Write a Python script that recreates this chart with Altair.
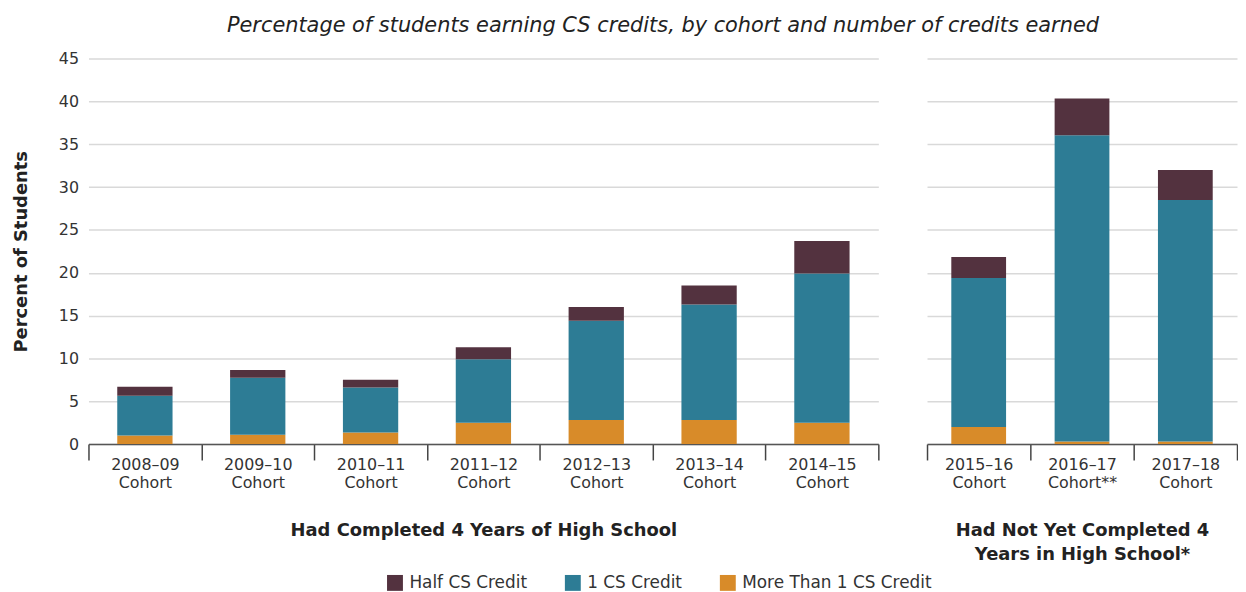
import altair as alt
import pandas as pd

cohorts_done = ["2008–09|Cohort", "2009–10|Cohort", "2010–11|Cohort", "2011–12|Cohort",
                "2012–13|Cohort", "2013–14|Cohort", "2014–15|Cohort"]
cohorts_not = ["2015–16|Cohort", "2016–17|Cohort**", "2017–18|Cohort"]
more_than_one = [1.0, 1.1, 1.35, 2.5, 2.8, 2.8, 2.5, 2.0, 0.3, 0.3]
one_credit = [4.65, 6.65, 5.25, 7.4, 11.6, 13.5, 17.4, 17.4, 35.75, 28.2]
half_credit = [1.05, 0.9, 0.9, 1.4, 1.6, 2.2, 3.8, 2.45, 4.3, 3.5]
series = ["Half CS Credit", "1 CS Credit", "More Than 1 CS Credit"]
colors = ["#53323F", "#2D7C95", "#D88B29"]

FONT = "DejaVu Sans"

rows = []
all_cohorts = cohorts_done + cohorts_not
for i, c in enumerate(all_cohorts):
    grp = "done" if i < len(cohorts_done) else "not"
    for s, vals, o in [(series[2], more_than_one, 0), (series[1], one_credit, 1), (series[0], half_credit, 2)]:
        rows.append({"cohort": c, "group": grp, "series": s, "value": vals[i], "order": o})
df = pd.DataFrame(rows)

color = alt.Color("series:N", scale=alt.Scale(domain=series, range=colors),
                  legend=alt.Legend(title=None, orient="none", direction="horizontal",
                                    legendX=300, legendY=519, symbolType="square",
                                    symbolSize=256, symbolStrokeWidth=0, symbolOpacity=1,
                                    labelFontSize=17, labelColor="#333333", labelFont=FONT,
                                    labelLimit=0, columnPadding=37, labelOffset=6))

def xaxis(title):
    return alt.Axis(title=title, labelExpr="split(datum.label, '|')", tickBand="extent",
                    labelAngle=0, tickSize=16, tickColor="#444444", tickWidth=1.5,
                    domainColor="#555555", domainWidth=1.5, labelFontSize=16,
                    labelColor="#333333", labelPadding=-3, labelLineHeight=18,
                    titleFontSize=18, titleFontWeight="bold", titleColor="#222222",
                    titlePadding=31, titleLineHeight=24, labelFont=FONT, titleFont=FONT)

yscale = alt.Scale(domain=[0, 45], nice=False)

left = alt.Chart(df).transform_filter(alt.datum.group == "done").mark_bar(
    width=alt.RelativeBandSize(0.49)).encode(
    x=alt.X("cohort:N", sort=cohorts_done, scale=alt.Scale(paddingInner=0, paddingOuter=0),
            axis=xaxis("Had Completed 4 Years of High School")),
    y=alt.Y("value:Q", stack="zero", scale=yscale,
            axis=alt.Axis(title="Percent of Students", values=list(range(0, 50, 5)),
                          grid=True, ticks=False, domain=False, labelFontSize=16,
                          labelColor="#333333", labelPadding=10, titleFontSize=18,
                          titleFontWeight="bold", titleColor="#222222", titlePadding=28,
                          gridColor="#D9D9D9", gridWidth=1.5, labelFont=FONT, titleFont=FONT)),
    color=color,
    order=alt.Order("order:Q"),
).properties(width=795, height=388)

right = alt.Chart(df).transform_filter(alt.datum.group == "not").mark_bar(
    width=alt.RelativeBandSize(0.53)).encode(
    x=alt.X("cohort:N", sort=cohorts_not, scale=alt.Scale(paddingInner=0, paddingOuter=0),
            axis=xaxis(["Had Not Yet Completed 4", "Years in High School*"])),
    y=alt.Y("value:Q", stack="zero", scale=yscale,
            axis=alt.Axis(title=None, values=list(range(0, 50, 5)), grid=True, ticks=False,
                          domain=False, labels=False, gridColor="#D9D9D9", gridWidth=1.5)),
    color=color,
    order=alt.Order("order:Q"),
).properties(width=312, height=388)

chart = alt.hconcat(left, right, spacing=47).properties(
    title=alt.TitleParams("Percentage of students earning CS credits, by cohort and number of credits earned",
                          fontStyle="italic", fontSize=21, fontWeight="normal", color="#222222",
                          font=FONT, anchor="middle", offset=15, dx=38),
    padding={"left": 4, "top": 5, "right": 0, "bottom": 0},
).configure(font=FONT).configure_view(stroke=None)

chart.save("out.html", embed_options={"renderer": "svg", "actions": False})
